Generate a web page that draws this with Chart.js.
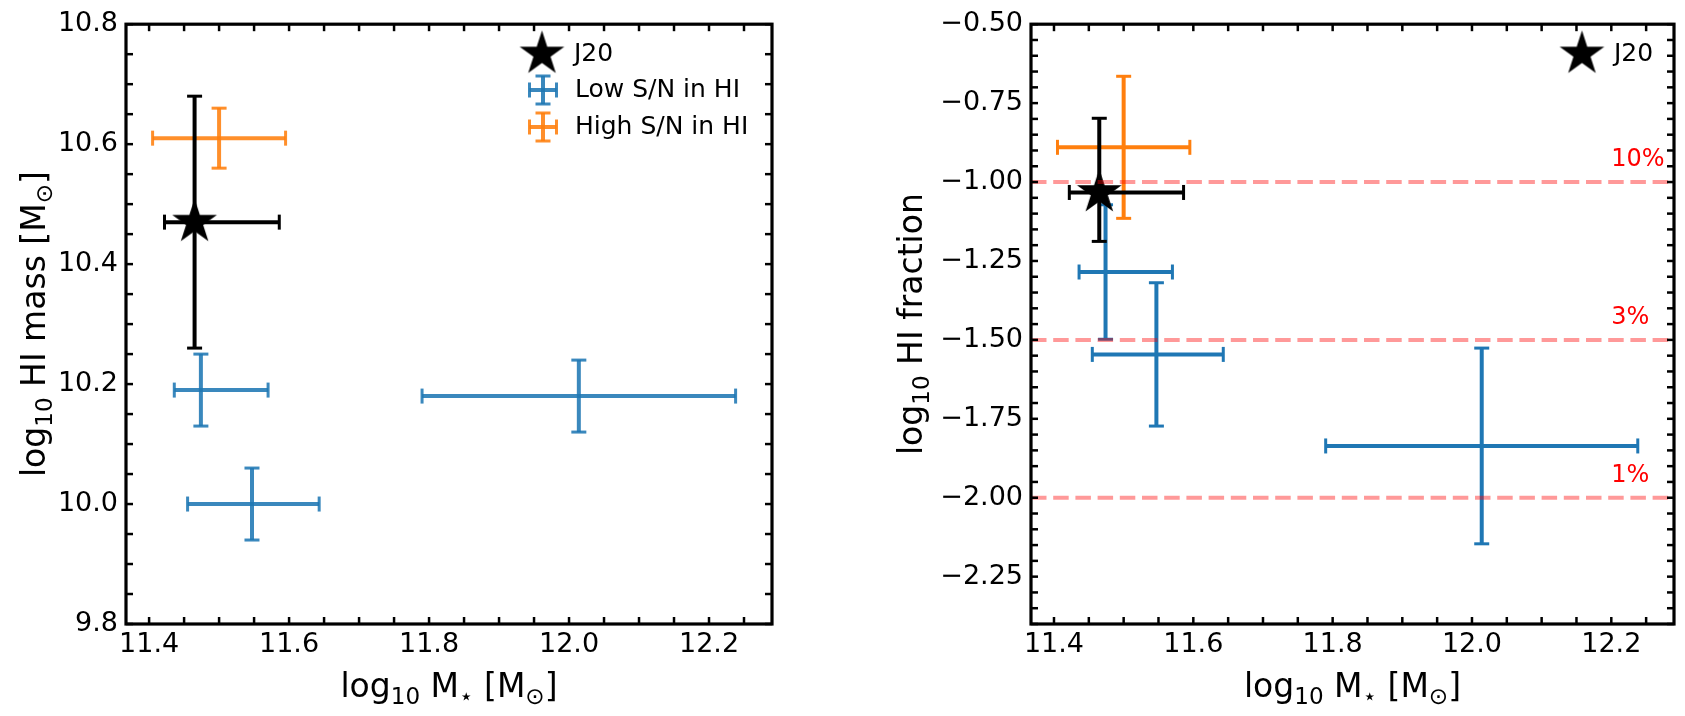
<!DOCTYPE html>
<html>
<head>
<meta charset="utf-8">
<script src="https://cdn.jsdelivr.net/npm/chart.js@4.4.1/dist/chart.umd.min.js"></script>
<style>
  html, body { margin: 0; padding: 0; background: #fff; overflow: hidden; }
  #wrap { position: relative; width: 1685px; height: 716px; }
  canvas { position: absolute; top: 0; }
  #leftChart { left: 0; }
  #rightChart { left: 830px; }
</style>
</head>
<body>
<div id="wrap">
  <canvas id="leftChart" width="830" height="716"></canvas>
  <canvas id="rightChart" width="855" height="716"></canvas>
</div>
<script>
// ---- data ----
// J20 reference point
const j20Mstar = [11.465];
const j20MstarErrLo = [0.043];
const j20MstarErrHi = [0.121];
const j20MHI = [10.47];
const j20MHIErrLo = [0.21];
const j20MHIErrHi = [0.21];
const j20Frac = [-1.033];
const j20FracErrLo = [0.155];
const j20FracErrHi = [0.235];

// low S/N in HI
const lowMstar = [11.474, 11.547, 12.014];
const lowMstarErrLo = [0.038, 0.092, 0.224];
const lowMstarErrHi = [0.096, 0.096, 0.224];
const lowMHI = [10.19, 10.00, 10.18];
const lowMHIErr = [0.06, 0.06, 0.06];
const lowFrac = [-1.285, -1.546, -1.836];
const lowFracErr = [0.213, 0.227, 0.31];

// high S/N in HI
const highMstar = [11.50];
const highMstarErr = [0.095];
const highMHI = [10.61];
const highMHIErr = [0.05];
const highFrac = [-0.89];
const highFracErr = [0.225];

// gas fraction reference lines
const fracLines = [-1.0, -1.5, -2.0];
const fracLineLabels = ['10%', '3%', '1%'];
const fracLabelX = 12.2;
const fracLabelOffset = 0.05;

// axis ranges / ticks
const xRange = [11.367, 12.29];
const xStep = 0.2, xMinor = 0.05;
const massRange = [9.8, 10.8];
const massStep = 0.2, massMinor = 0.05;
const fracRange = [-2.4, -0.5];
const fracStep = 0.25, fracMinor = 0.05;

// ---- styles ----
const FONT = "'DejaVu Sans', sans-serif";
const BLUE_L = 'rgba(31,119,180,0.88)';
const ORANGE_L = 'rgba(255,127,14,0.88)';
const BLUE_R = '#1f77b4';
const ORANGE_R = '#ff7f0e';

function makeStar(R, color) {
  const c = document.createElement('canvas');
  const s = Math.ceil(2 * R + 4);
  c.width = c.height = s;
  const g = c.getContext('2d');
  g.fillStyle = color;
  g.beginPath();
  for (let k = 0; k < 10; k++) {
    const r = k % 2 ? R * 0.381966 : R;
    const a = -Math.PI / 2 + k * Math.PI / 5;
    const px = s / 2 + r * Math.cos(a), py = s / 2 + r * Math.sin(a);
    if (k) g.lineTo(px, py); else g.moveTo(px, py);
  }
  g.closePath();
  g.fill();
  return c;
}
const starImg = makeStar(23.5, '#000');

function seg(ctx, x0, y0, x1, y1) {
  ctx.beginPath(); ctx.moveTo(x0, y0); ctx.lineTo(x1, y1); ctx.stroke();
}

function drawMath(ctx, parts, cx, cy, size, angle) {
  ctx.save();
  ctx.translate(cx, cy);
  ctx.rotate(angle);
  const sub = size * 0.7;
  let total = 0;
  const ws = parts.map(([t, s]) => {
    ctx.font = `${s ? sub : size}px ${FONT}`;
    const w = ctx.measureText(t).width;
    total += w;
    return w;
  });
  let x = -total / 2;
  ctx.textAlign = 'left';
  ctx.textBaseline = 'alphabetic';
  ctx.fillStyle = '#000';
  parts.forEach(([t, s], i) => {
    ctx.font = `${s ? sub : size}px ${FONT}`;
    ctx.fillText(t, x, s ? size * 0.22 : 0);
    x += ws[i];
  });
  ctx.restore();
}

function errIcon(ctx, cx, cy, color) {
  ctx.strokeStyle = color;
  ctx.lineWidth = 4;
  seg(ctx, cx - 13.5, cy, cx + 13.5, cy);
  seg(ctx, cx, cy - 14, cx, cy + 14);
  ctx.lineWidth = 3;
  seg(ctx, cx - 13.5, cy - 7.5, cx - 13.5, cy + 7.5);
  seg(ctx, cx + 13.5, cy - 7.5, cx + 13.5, cy + 7.5);
  seg(ctx, cx - 7.5, cy - 14, cx + 7.5, cy - 14);
  seg(ctx, cx - 7.5, cy + 14, cx + 7.5, cy + 14);
}

function minorTicks(min, max, step) {
  const out = [];
  for (let v = Math.ceil(min / step - 1e-6) * step; v <= max + 1e-9; v += step) out.push(v);
  return out;
}

// panel plugin: errorbars, reference lines, frame with inward ticks, labels, legend
function panelPlugin(p) {
  return {
    id: 'panel',
    beforeDatasetsDraw(chart) {
      const { ctx, scales: { x, y } } = chart;
      ctx.save();
      p.errorbars.forEach(s => {
        ctx.strokeStyle = s.color;
        for (let i = 0; i < s.x.length; i++) {
          const px = x.getPixelForValue(s.x[i]), py = y.getPixelForValue(s.y[i]);
          const x0 = x.getPixelForValue(s.x[i] - s.xLo[i]), x1 = x.getPixelForValue(s.x[i] + s.xHi[i]);
          const y0 = y.getPixelForValue(s.y[i] - s.yLo[i]), y1 = y.getPixelForValue(s.y[i] + s.yHi[i]);
          ctx.lineWidth = 4;
          seg(ctx, x0, py, x1, py);
          seg(ctx, px, y0, px, y1);
          ctx.lineWidth = 3;
          seg(ctx, x0, py - 7.5, x0, py + 7.5);
          seg(ctx, x1, py - 7.5, x1, py + 7.5);
          seg(ctx, px - 7.5, y0, px + 7.5, y0);
          seg(ctx, px - 7.5, y1, px + 7.5, y1);
        }
      });
      ctx.restore();
    },
    afterDatasetsDraw(chart) {
      const { ctx, chartArea: a, scales: { x, y } } = chart;
      if (!p.lines) return;
      ctx.save();
      ctx.strokeStyle = 'rgba(255,0,0,0.4)';
      ctx.lineWidth = 4;
      ctx.setLineDash([15.5, 6.7]);
      p.lines.forEach(v => {
        const py = y.getPixelForValue(v);
        seg(ctx, a.left, py, a.right, py);
      });
      ctx.setLineDash([]);
      ctx.fillStyle = '#ff0000';
      ctx.font = `24px ${FONT}`;
      ctx.textAlign = 'left';
      ctx.textBaseline = 'alphabetic';
      p.lines.forEach((v, i) => {
        ctx.fillText(p.lineLabels[i], x.getPixelForValue(fracLabelX), y.getPixelForValue(v + fracLabelOffset));
      });
      ctx.restore();
    },
    afterDraw(chart) {
      const { ctx, chartArea: a, scales: { x, y } } = chart;
      ctx.save();
      // inward ticks on all four sides
      ctx.strokeStyle = '#000';
      ctx.lineWidth = 2.5;
      const tl = 7;
      minorTicks(x.min, x.max, p.xMinor).forEach(v => {
        const px = x.getPixelForValue(v);
        seg(ctx, px, a.bottom, px, a.bottom - tl);
        seg(ctx, px, a.top, px, a.top + tl);
      });
      minorTicks(y.min, y.max, p.yMinor).forEach(v => {
        const py = y.getPixelForValue(v);
        seg(ctx, a.left, py, a.left + tl, py);
        seg(ctx, a.right, py, a.right - tl, py);
      });
      ctx.lineWidth = 3.2;
      ctx.strokeRect(a.left, a.top, a.right - a.left, a.bottom - a.top);
      // axis titles
      drawMath(ctx, p.xTitle, (a.left + a.right) / 2, 697, 33, 0);
      drawMath(ctx, p.yTitle, p.yTitleX, (a.top + a.bottom) / 2, 33, -Math.PI / 2);
      // legend
      ctx.font = `25px ${FONT}`;
      ctx.textAlign = 'left';
      ctx.textBaseline = 'middle';
      p.legend.forEach(e => {
        if (e.star) ctx.drawImage(starImg, e.x - starImg.width / 2, e.y - starImg.height / 2);
        else errIcon(ctx, e.x, e.y, e.color);
        ctx.fillStyle = '#000';
        ctx.fillText(e.label, e.x + 32, e.y);
      });
      ctx.restore();
    }
  };
}

function pts(xs, ys) { return xs.map((v, i) => ({ x: v, y: ys[i] })); }

function makeChart(id, p) {
  return new Chart(document.getElementById(id), {
    type: 'scatter',
    data: {
      datasets: [
        { label: 'J20', data: pts(j20Mstar, p.j20y), pointStyle: starImg, pointRadius: 10 },
        { label: 'Low S/N in HI', data: pts(lowMstar, p.lowy), pointRadius: 0 },
        { label: 'High S/N in HI', data: pts(highMstar, p.highy), pointRadius: 0 }
      ]
    },
    options: {
      responsive: false,
      animation: false,
      layout: { padding: { left: 0, top: 21, right: p.padRight, bottom: 0 } },
      plugins: { legend: { display: false }, tooltip: { enabled: false } },
      scales: {
        x: {
          type: 'linear', min: xRange[0], max: xRange[1],
          grid: { display: false, drawTicks: false },
          border: { display: false },
          ticks: {
            stepSize: xStep, includeBounds: false, autoSkip: false, maxRotation: 0,
            padding: 5, color: '#000', font: { family: FONT, size: 27 },
            callback: v => v.toFixed(1)
          },
          afterFit: s => { s.height = 92; }
        },
        y: {
          type: 'linear', min: p.yRange[0], max: p.yRange[1],
          grid: { display: false, drawTicks: false },
          border: { display: false },
          ticks: {
            stepSize: p.yStep, includeBounds: false, autoSkip: false,
            padding: 8, color: '#000', font: { family: FONT, size: 27 },
            callback: v => v.toFixed(p.yDec).replace('-', '\u2212')
          },
          afterFit: s => { s.width = p.yWidth; }
        }
      }
    },
    plugins: [panelPlugin(p)]
  });
}

const massTitle = [['log', 0], ['10', 1], [' M', 0], ['\u22c6', 1], [' [M', 0], ['\u2299', 1], [']', 0]];

// left: HI mass
makeChart('leftChart', {
  j20y: j20MHI, lowy: lowMHI, highy: highMHI,
  yRange: massRange, yStep: massStep, yMinor: massMinor, yDec: 1, xMinor: xMinor,
  yWidth: 126, padRight: 58,
  errorbars: [
    { color: ORANGE_L, x: highMstar, xLo: highMstarErr, xHi: highMstarErr, y: highMHI, yLo: highMHIErr, yHi: highMHIErr },
    { color: BLUE_L, x: lowMstar, xLo: lowMstarErrLo, xHi: lowMstarErrHi, y: lowMHI, yLo: lowMHIErr, yHi: lowMHIErr },
    { color: '#000', x: j20Mstar, xLo: j20MstarErrLo, xHi: j20MstarErrHi, y: j20MHI, yLo: j20MHIErrLo, yHi: j20MHIErrHi }
  ],
  xTitle: massTitle,
  yTitle: [['log', 0], ['10', 1], [' HI mass [M', 0], ['\u2299', 1], [']', 0]],
  yTitleX: 45,
  legend: [
    { star: true, x: 542, y: 54, label: 'J20' },
    { color: BLUE_L, x: 543, y: 90, label: 'Low S/N in HI' },
    { color: ORANGE_L, x: 543, y: 127, label: 'High S/N in HI' }
  ]
});

// right: HI fraction
makeChart('rightChart', {
  j20y: j20Frac, lowy: lowFrac, highy: highFrac,
  yRange: fracRange, yStep: fracStep, yMinor: fracMinor, yDec: 2, xMinor: xMinor,
  yWidth: 201, padRight: 8,
  errorbars: [
    { color: ORANGE_R, x: highMstar, xLo: highMstarErr, xHi: highMstarErr, y: highFrac, yLo: highFracErr, yHi: highFracErr },
    { color: BLUE_R, x: lowMstar, xLo: lowMstarErrLo, xHi: lowMstarErrHi, y: lowFrac, yLo: lowFracErr, yHi: lowFracErr },
    { color: '#000', x: j20Mstar, xLo: j20MstarErrLo, xHi: j20MstarErrHi, y: j20Frac, yLo: j20FracErrLo, yHi: j20FracErrHi }
  ],
  lines: fracLines, lineLabels: fracLineLabels,
  xTitle: massTitle,
  yTitle: [['log', 0], ['10', 1], [' HI fraction', 0]],
  yTitleX: 92,
  legend: [
    { star: true, x: 752, y: 54, label: 'J20' }
  ]
});
</script>
</body>
</html>
